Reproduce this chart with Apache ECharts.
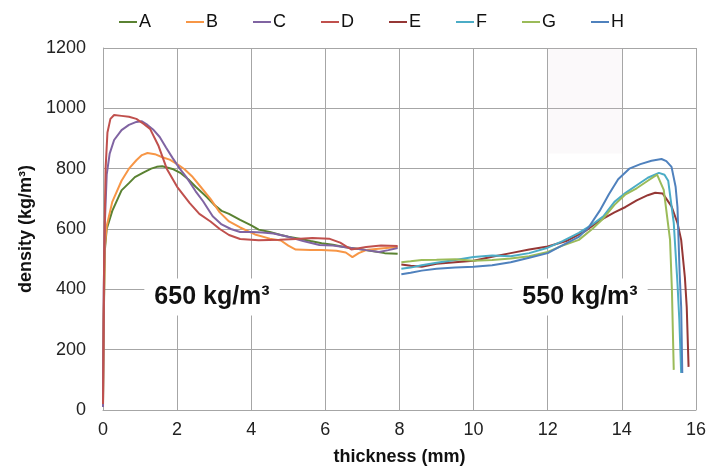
<!DOCTYPE html>
<html>
<head>
<meta charset="utf-8">
<script src="https://cdn.jsdelivr.net/npm/echarts@6/dist/echarts.min.js"></script>
<style>
  html, body { margin: 0; padding: 0; background: #fff; }
  #chart { width: 709px; height: 471px; }
</style>
</head>
<body>
<div id="chart"></div>
<script>
// thickness (mm) / density (kg/m3) pairs
var names = ['A', 'B', 'C', 'D', 'E', 'F', 'G', 'H']
var colors = ['#5a8232', '#f79646', '#8064a2', '#c0504d', '#953735', '#4bacc6', '#9bbb59', '#4f81bd']

var dataA = [[0, 10], [0.02, 300], [0.05, 530], [0.1, 600], [0.25, 660], [0.5, 728], [0.7, 752], [0.86, 772],
  [1.1, 788], [1.3, 800], [1.45, 806], [1.6, 808], [1.9, 798], [2.1, 785], [2.3, 765], [2.5, 740], [2.8, 706],
  [3.0, 680], [3.2, 660], [3.4, 650], [3.7, 630], [4.0, 612], [4.2, 598], [4.5, 590], [4.8, 580], [5.0, 574],
  [5.3, 568], [5.6, 560], [5.9, 553], [6.2, 548], [6.5, 540], [6.7, 537], [7.0, 532], [7.3, 526], [7.6, 520], [7.95, 518]]
var dataB = [[0, 10], [0.02, 320], [0.05, 540], [0.1, 610], [0.25, 690], [0.5, 760], [0.7, 800], [0.9, 828],
  [1.05, 845], [1.2, 852], [1.4, 848], [1.6, 838], [1.8, 830], [2.0, 815], [2.2, 798], [2.4, 775], [2.6, 745],
  [2.9, 700], [3.15, 655], [3.4, 625], [3.7, 605], [4.1, 582], [4.5, 568], [4.8, 562], [5.0, 545], [5.2, 532],
  [5.6, 530], [5.9, 530], [6.3, 528], [6.55, 522], [6.73, 507], [6.9, 520], [7.1, 530], [7.5, 535], [7.95, 540]]
var dataC = [[0, 10], [0.02, 400], [0.05, 620], [0.1, 780], [0.18, 850], [0.3, 895], [0.5, 928], [0.7, 945],
  [0.9, 955], [1.05, 957], [1.2, 945], [1.35, 930], [1.53, 905], [1.7, 870], [1.88, 835], [2.07, 800], [2.26, 770],
  [2.5, 725], [2.7, 692], [2.96, 642], [3.2, 615], [3.45, 600], [3.7, 590], [4.0, 590], [4.3, 588], [4.6, 585],
  [5.0, 574], [5.4, 560], [5.84, 547], [6.2, 545], [6.7, 537], [7.1, 530], [7.45, 524], [7.7, 530], [7.95, 537]]
var dataD = [[0, 20], [0.03, 500], [0.07, 800], [0.12, 920], [0.2, 965], [0.3, 978], [0.5, 975], [0.7, 972],
  [0.9, 965], [1.1, 948], [1.27, 932], [1.5, 875], [1.72, 800], [2.0, 740], [2.34, 686], [2.6, 650], [2.9, 625],
  [3.15, 600], [3.4, 580], [3.7, 567], [4.2, 563], [4.76, 564], [5.2, 567], [5.65, 570], [6.1, 568], [6.4, 555],
  [6.7, 532], [7.1, 540], [7.5, 545], [7.95, 544]]
var dataE = [[8.05, 482], [8.3, 478], [8.6, 475], [9.0, 485], [9.5, 490], [10.0, 495], [10.5, 508], [11.0, 520],
  [11.5, 532], [12.0, 542], [12.5, 560], [13.0, 592], [13.4, 628], [13.8, 655], [14.1, 673], [14.4, 695],
  [14.7, 712], [14.9, 720], [15.1, 718], [15.34, 675], [15.5, 620], [15.6, 564], [15.7, 440], [15.75, 342], [15.8, 143]]
var dataF = [[8.05, 468], [8.3, 472], [8.6, 480], [9.0, 488], [9.5, 497], [10.0, 507], [10.5, 512], [11.0, 510],
  [11.5, 520], [12.0, 538], [12.4, 560], [12.84, 587], [13.2, 615], [13.5, 642], [13.8, 690], [14.1, 720],
  [14.4, 745], [14.7, 770], [15.0, 786], [15.15, 780], [15.25, 760], [15.4, 620], [15.5, 420], [15.55, 300], [15.6, 123]]
var dataG = [[8.05, 490], [8.3, 493], [8.6, 497], [9.0, 498], [9.5, 500], [10.0, 495], [10.5, 497], [11.0, 502],
  [11.5, 510], [12.0, 524], [12.4, 545], [12.84, 564], [13.2, 600], [13.5, 635], [13.8, 680], [14.1, 715],
  [14.4, 735], [14.7, 760], [14.95, 780], [15.13, 730], [15.3, 564], [15.35, 400], [15.4, 133]]
var dataH = [[8.05, 450], [8.3, 455], [8.6, 462], [9.0, 468], [9.5, 472], [10.0, 475], [10.5, 480], [11.0, 490],
  [11.5, 505], [12.0, 520], [12.3, 540], [12.84, 574], [13.1, 605], [13.4, 660], [13.65, 715], [13.9, 765],
  [14.2, 800], [14.5, 815], [14.8, 826], [15.07, 832], [15.2, 825], [15.34, 806], [15.45, 740], [15.5, 673],
  [15.56, 450], [15.6, 342], [15.63, 123]]
var allData = [dataA, dataB, dataC, dataD, dataE, dataF, dataG, dataH]

var labels = [
  { text: '650 kg/m³', x: 212, y: 297 },
  { text: '550 kg/m³', x: 580, y: 297 }
]

var font = '"Liberation Sans", Arial, sans-serif'
var gridColor = '#a6a6a6'

var chart = echarts.init(document.getElementById('chart'))

var series = names.map(function (n, i) {
  var s = {
    name: n,
    type: 'line',
    data: allData[i],
    showSymbol: false,
    symbol: 'none',
    lineStyle: { width: 2, color: colors[i] },
    itemStyle: { color: colors[i] }
  }
  if (i === 4) {
    // faint shaded patch seen in the picture
    s.markArea = {
      silent: true,
      itemStyle: { color: 'rgba(215,200,205,0.1)' },
      data: [[{ xAxis: 12, yAxis: 1200 }, { xAxis: 14, yAxis: 850 }]]
    }
  }
  return s
})

var option = {
  animation: false,
  backgroundColor: '#fff',
  legend: {
    data: names,
    top: 8,
    left: 114,
    icon: 'rect',
    itemWidth: 18,
    itemHeight: 2,
    itemGap: 35,
    textStyle: { fontFamily: font, fontSize: 18, color: '#111', padding: [0, 0, 0, -3] }
  },
  grid: { left: 103, right: 12, top: 48, bottom: 61 },
  xAxis: {
    type: 'value',
    min: 0,
    max: 16,
    interval: 2,
    name: 'thickness (mm)',
    nameLocation: 'middle',
    nameGap: 38,
    nameTextStyle: { fontFamily: font, fontSize: 18, fontWeight: 'bold', color: '#111' },
    axisLine: { show: true, lineStyle: { color: gridColor } },
    axisTick: { show: false },
    axisLabel: { fontFamily: font, fontSize: 18, color: '#222', margin: 11 },
    splitLine: { show: true, lineStyle: { color: gridColor } }
  },
  yAxis: {
    type: 'value',
    min: 0,
    max: 1200,
    interval: 200,
    name: 'density (kg/m³)',
    nameLocation: 'middle',
    nameGap: 56,
    nameTextStyle: { fontFamily: font, fontSize: 18, fontWeight: 'bold', color: '#111' },
    axisLine: { show: true, lineStyle: { color: gridColor } },
    axisTick: { show: false },
    axisLabel: {
      fontFamily: font, fontSize: 18, color: '#222', margin: 17,
      formatter: function (v) { return String(v) }
    },
    splitLine: { show: true, lineStyle: { color: gridColor } }
  },
  graphic: labels.map(function (l) {
    return {
      type: 'text',
      x: l.x,
      y: l.y,
      z: 100,
      style: {
        text: l.text,
        align: 'center',
        verticalAlign: 'middle',
        fontFamily: font,
        fontSize: 25,
        fontWeight: 'bold',
        fill: '#111',
        backgroundColor: '#fff',
        padding: [6, 10]
      }
    }
  }),
  series: series
}

chart.setOption(option)
</script>
</body>
</html>
